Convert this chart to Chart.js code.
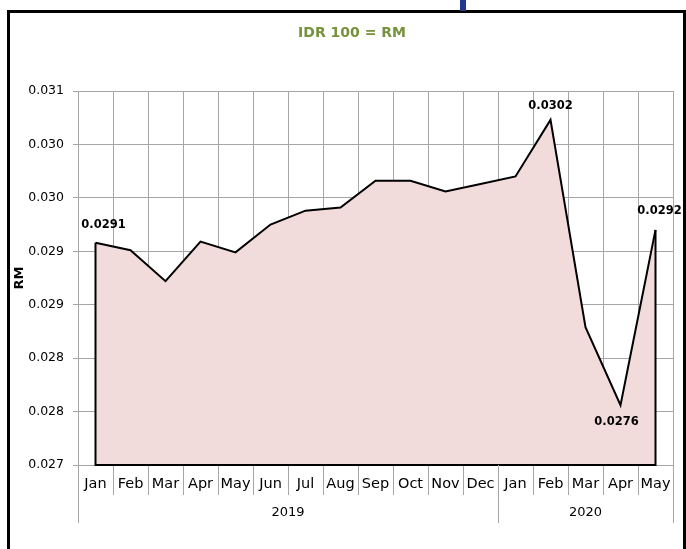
<!DOCTYPE html>
<html>
<head>
<meta charset="utf-8">
<script src="https://cdn.jsdelivr.net/npm/chart.js@4/dist/chart.umd.min.js"></script>
<style>
  html, body { margin: 0; padding: 0; background: #ffffff; overflow: hidden; }
  #wrap { position: relative; width: 686px; height: 549px; }
  #chart { position: absolute; left: 0; top: 0; }
  #frame {
    position: absolute; left: 7px; top: 10px; width: 673px; height: 600px;
    border: 3px solid #000; pointer-events: none;
  }
  #tab {
    position: absolute; left: 460px; top: 0; width: 6px; height: 11px; background: #1f3a8a;
  }
</style>
</head>
<body>
<div id="wrap">
  <canvas id="chart" width="686" height="549"></canvas>
  <div id="frame"></div>
  <div id="tab"></div>
</div>
<script>
// Monthly value of IDR 100 in RM, Jan 2019 – May 2020
const months = ['Jan','Feb','Mar','Apr','May','Jun','Jul','Aug','Sep','Oct','Nov','Dec',
                'Jan','Feb','Mar','Apr','May'];
const years = ['2019','2019','2019','2019','2019','2019','2019','2019','2019','2019','2019','2019',
               '2020','2020','2020','2020','2020'];
const rates = [0.02908, 0.02901, 0.02872, 0.02909, 0.02899, 0.02925, 0.02938, 0.02941,
               0.02966, 0.02966, 0.02956, 0.02963, 0.02970, 0.03023, 0.02829, 0.02756, 0.02920];
const yTickLabels = ['0.027','0.028','0.028','0.029','0.029','0.030','0.030','0.031'];
const labelledPoints = [0, 13, 15, 16];
const chartTitle = 'IDR 100 = RM';

const FONT = '"DejaVu Sans", sans-serif';

// Placement of each value label relative to its point
const labelOffsets = {
  0:  { dx: 8,  dy: -18 },
  13: { dx: 0,  dy: -14 },
  15: { dx: -4, dy: 17 },
  16: { dx: 4,  dy: -19 }
};

// Heading above the plot
const heading = {
  id: 'heading',
  afterDraw(chart) {
    const ctx = chart.ctx;
    ctx.save();
    ctx.fillStyle = '#76923c';
    ctx.font = 'bold 14px ' + FONT;
    ctx.textAlign = 'center';
    ctx.textBaseline = 'middle';
    ctx.fillText(chartTitle, chart.width / 2 + 9, 33);
    ctx.restore();
  }
};

// Closes the area outline (sides and base) like a bordered area series
const areaOutline = {
  id: 'areaOutline',
  afterDatasetsDraw(chart) {
    const pts = chart.getDatasetMeta(0).data;
    const first = pts[0], last = pts[pts.length - 1];
    const base = chart.scales.y.getPixelForValue(chart.scales.y.min);
    const ctx = chart.ctx;
    ctx.save();
    ctx.strokeStyle = '#000';
    ctx.lineWidth = 2;
    ctx.beginPath();
    ctx.moveTo(first.x, first.y);
    ctx.lineTo(first.x, base);
    ctx.lineTo(last.x, base);
    ctx.lineTo(last.x, last.y);
    ctx.stroke();
    ctx.restore();
  }
};

// Year group row beneath the month labels
const yearGroups = {
  id: 'yearGroups',
  afterDraw(chart) {
    const x = chart.scales.x;
    const ctx = chart.ctx;
    const half = (x.getPixelForValue(1) - x.getPixelForValue(0)) / 2;
    const top = chart.chartArea.bottom;
    const groups = [];
    years.forEach((yr, i) => {
      const g = groups[groups.length - 1];
      if (g && g.year === yr) g.end = i; else groups.push({ year: yr, start: i, end: i });
    });
    ctx.save();
    ctx.strokeStyle = '#a6a6a6';
    ctx.lineWidth = 1;
    ctx.fillStyle = '#000';
    ctx.font = '13px ' + FONT;
    ctx.textAlign = 'center';
    ctx.textBaseline = 'middle';
    groups.forEach((g, k) => {
      const l = x.getPixelForValue(g.start) - half;
      const r = x.getPixelForValue(g.end) + half;
      ctx.beginPath();
      if (k === 0) { ctx.moveTo(Math.round(l) + 0.5, top); ctx.lineTo(Math.round(l) + 0.5, top + 58); }
      ctx.moveTo(Math.round(r) + 0.5, top);
      ctx.lineTo(Math.round(r) + 0.5, top + 58);
      ctx.stroke();
      ctx.fillText(g.year, (l + r) / 2, top + 48);
    });
    ctx.restore();
  }
};

// Value labels on selected points
const valueLabels = {
  id: 'valueLabels',
  afterDraw(chart) {
    const pts = chart.getDatasetMeta(0).data;
    const ctx = chart.ctx;
    ctx.save();
    ctx.fillStyle = '#000';
    ctx.font = 'bold 11.5px ' + FONT;
    ctx.textAlign = 'center';
    ctx.textBaseline = 'middle';
    labelledPoints.forEach(i => {
      const o = labelOffsets[i] || { dx: 0, dy: -15 };
      ctx.fillText(rates[i].toFixed(4), pts[i].x + o.dx, pts[i].y + o.dy);
    });
    ctx.restore();
  }
};

new Chart(document.getElementById('chart'), {
  type: 'line',
  data: {
    labels: months,
    datasets: [{
      data: rates,
      borderColor: '#000',
      borderWidth: 2,
      backgroundColor: '#f2dcdb',
      fill: 'start',
      tension: 0,
      pointRadius: 0,
      pointHoverRadius: 0
    }]
  },
  options: {
    responsive: false,
    animation: false,
    events: [],
    layout: { padding: { left: 0, right: 13, top: 91, bottom: 0 } },
    plugins: {
      legend: { display: false },
      tooltip: { enabled: false },
      title: { display: false }
    },
    scales: {
      x: {
        type: 'category',
        offset: true,
        grid: { offset: true, color: '#a6a6a6', lineWidth: 1, tickLength: 30, drawTicks: true },
        border: { color: '#a6a6a6', width: 1 },
        ticks: {
          color: '#000', font: { family: FONT, size: 14.5 },
          maxRotation: 0, minRotation: 0, autoSkip: false, padding: -19
        },
        afterFit(scale) { scale.height = 84; }
      },
      y: {
        min: 0.027,
        max: 0.0305,
        grid: { color: '#a6a6a6', lineWidth: 1, tickLength: 5 },
        border: { color: '#a6a6a6', width: 1 },
        ticks: {
          stepSize: 0.0005,
          color: '#000',
          font: { family: FONT, size: 12.5 },
          padding: 9,
          callback: (v, i) => yTickLabels[i]
        },
        title: {
          display: true,
          text: 'RM',
          color: '#000',
          font: { family: FONT, size: 13, weight: 'bold' },
          padding: { top: 12, bottom: 0 }
        },
        afterFit(scale) { scale.width = 78; }
      }
    }
  },
  plugins: [heading, areaOutline, yearGroups, valueLabels]
});
</script>
</body>
</html>
